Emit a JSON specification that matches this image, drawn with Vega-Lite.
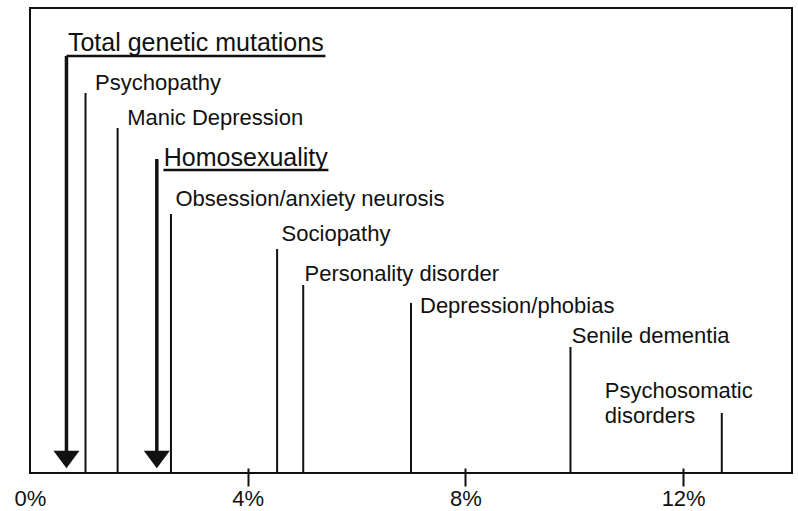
{
  "$schema": "https://vega.github.io/schema/vega-lite/v6.json",
  "width": 762,
  "height": 465,
  "autosize": {"type": "none"},
  "padding": {"left": 30, "top": 8, "right": 6, "bottom": 38},
  "background": "white",
  "config": {
    "view": {"stroke": "#111111", "strokeWidth": 2},
    "font": "Liberation Sans"
  },
  "data": {
    "values": [
      {"name": "Total genetic mutations", "value": 0.67, "height": 417, "kind": "arrow"},
      {"name": "Psychopathy", "value": 1.02, "height": 380, "kind": "line"},
      {"name": "Manic Depression", "value": 1.61, "height": 345, "kind": "line"},
      {"name": "Homosexuality", "value": 2.33, "height": 314, "kind": "arrow"},
      {"name": "Obsession/anxiety neurosis", "value": 2.59, "height": 259, "kind": "line"},
      {"name": "Sociopathy", "value": 4.54, "height": 224, "kind": "line"},
      {"name": "Personality disorder", "value": 5.02, "height": 188, "kind": "line"},
      {"name": "Depression/phobias", "value": 7.0, "height": 170, "kind": "line"},
      {"name": "Senile dementia", "value": 9.93, "height": 126, "kind": "line"},
      {"name": "Psychosomatic disorders", "value": 12.71, "height": 60, "kind": "line"}
    ]
  },
  "encoding": {
    "x": {
      "field": "value",
      "type": "quantitative",
      "scale": {"domain": [0, 14], "nice": false, "zero": false},
      "axis": {
        "values": [0, 4, 8, 12],
        "labelExpr": "datum.value + '%'",
        "labelFontSize": 22,
        "labelFont": "Liberation Sans",
        "labelColor": "#111111",
        "labelFlush": false,
        "labelPadding": 2,
        "tickColor": "#111111",
        "tickWidth": 2,
        "tickSize": 18,
        "tickOpacity": {"condition": {"test": "datum.value <= 0", "value": 0}, "value": 1},
        "offset": -5,
        "domain": false,
        "grid": false,
        "title": null
      }
    }
  },
  "layer": [
    {
      "transform": [{"filter": "datum.kind === 'line'"}],
      "mark": {"type": "rule", "color": "#111111", "strokeWidth": 2},
      "encoding": {
        "y": {"field": "height", "type": "quantitative", "scale": {"domain": [0, 465], "nice": false, "zero": true}, "axis": null},
        "y2": {"datum": 0}
      }
    },
    {
      "transform": [{"filter": "datum.kind === 'arrow'"}],
      "mark": {"type": "rule", "color": "#111111", "strokeWidth": 3.5},
      "encoding": {
        "y": {"field": "height", "type": "quantitative"},
        "y2": {"datum": 18}
      }
    },
    {
      "transform": [{"filter": "datum.kind === 'arrow'"}],
      "mark": {"type": "point", "shape": "M-1,-0.68L1,-0.68L0,0.68Z", "size": 676, "filled": true, "color": "#111111", "opacity": 1, "strokeWidth": 0},
      "encoding": {
        "y": {"datum": 13.5, "type": "quantitative"}
      }
    },
    {
      "transform": [{"filter": "datum.name === 'Total genetic mutations'"}],
      "mark": {"type": "rule", "color": "#111111", "strokeWidth": 2.5, "x2Offset": 259},
      "encoding": {
        "y": {"field": "height", "type": "quantitative"},
        "x2": {"field": "value"}
      }
    },
    {
      "transform": [{"filter": "datum.name === 'Homosexuality'"}],
      "mark": {"type": "rule", "color": "#111111", "strokeWidth": 2.5, "xOffset": 6.6, "x2Offset": 171.6, "yOffset": 11},
      "encoding": {
        "y": {"field": "height", "type": "quantitative"},
        "x2": {"field": "value"}
      }
    },
    {
      "transform": [{"filter": "datum.name === 'Total genetic mutations'"}],
      "mark": {"type": "text", "align": "left", "baseline": "alphabetic", "dx": 1.5, "dy": -5.5, "fontSize": 25, "color": "#111111"},
      "encoding": {
        "y": {"field": "height", "type": "quantitative"},
        "text": {"field": "name"}
      }
    },
    {
      "transform": [{"filter": "datum.name === 'Homosexuality'"}],
      "mark": {"type": "text", "align": "left", "baseline": "alphabetic", "dx": 7, "dy": 6.5, "fontSize": 25, "color": "#111111"},
      "encoding": {
        "y": {"field": "height", "type": "quantitative"},
        "text": {"field": "name"}
      }
    },
    {
      "transform": [{"filter": {"field": "name", "oneOf": ["Psychopathy", "Manic Depression"]}}],
      "mark": {"type": "text", "align": "left", "baseline": "alphabetic", "dx": 9.5, "dy": -3.2, "fontSize": 22, "color": "#111111"},
      "encoding": {
        "y": {"field": "height", "type": "quantitative"},
        "text": {"field": "name"}
      }
    },
    {
      "transform": [{"filter": {"field": "name", "oneOf": ["Obsession/anxiety neurosis", "Sociopathy"]}}],
      "mark": {"type": "text", "align": "left", "baseline": "alphabetic", "dx": 4.5, "dy": -8.3, "fontSize": 22, "color": "#111111"},
      "encoding": {
        "y": {"field": "height", "type": "quantitative"},
        "text": {"field": "name"}
      }
    },
    {
      "transform": [{"filter": {"field": "name", "oneOf": ["Personality disorder", "Senile dementia"]}}],
      "mark": {"type": "text", "align": "left", "baseline": "alphabetic", "dx": 1.3, "dy": -4.3, "fontSize": 22, "color": "#111111"},
      "encoding": {
        "y": {"field": "height", "type": "quantitative"},
        "text": {"field": "name"}
      }
    },
    {
      "transform": [{"filter": "datum.name === 'Depression/phobias'"}],
      "mark": {"type": "text", "align": "left", "baseline": "alphabetic", "dx": 9, "dy": 10.3, "fontSize": 22, "color": "#111111"},
      "encoding": {
        "y": {"field": "height", "type": "quantitative"},
        "text": {"field": "name"}
      }
    },
    {
      "transform": [{"filter": "datum.name === 'Psychosomatic disorders'"}],
      "mark": {"type": "text", "align": "left", "baseline": "alphabetic", "dx": -117, "dy": -15, "fontSize": 22, "lineHeight": 24.7, "lineBreak": " ", "color": "#111111"},
      "encoding": {
        "y": {"field": "height", "type": "quantitative"},
        "text": {"field": "name"}
      }
    }
  ]
}
